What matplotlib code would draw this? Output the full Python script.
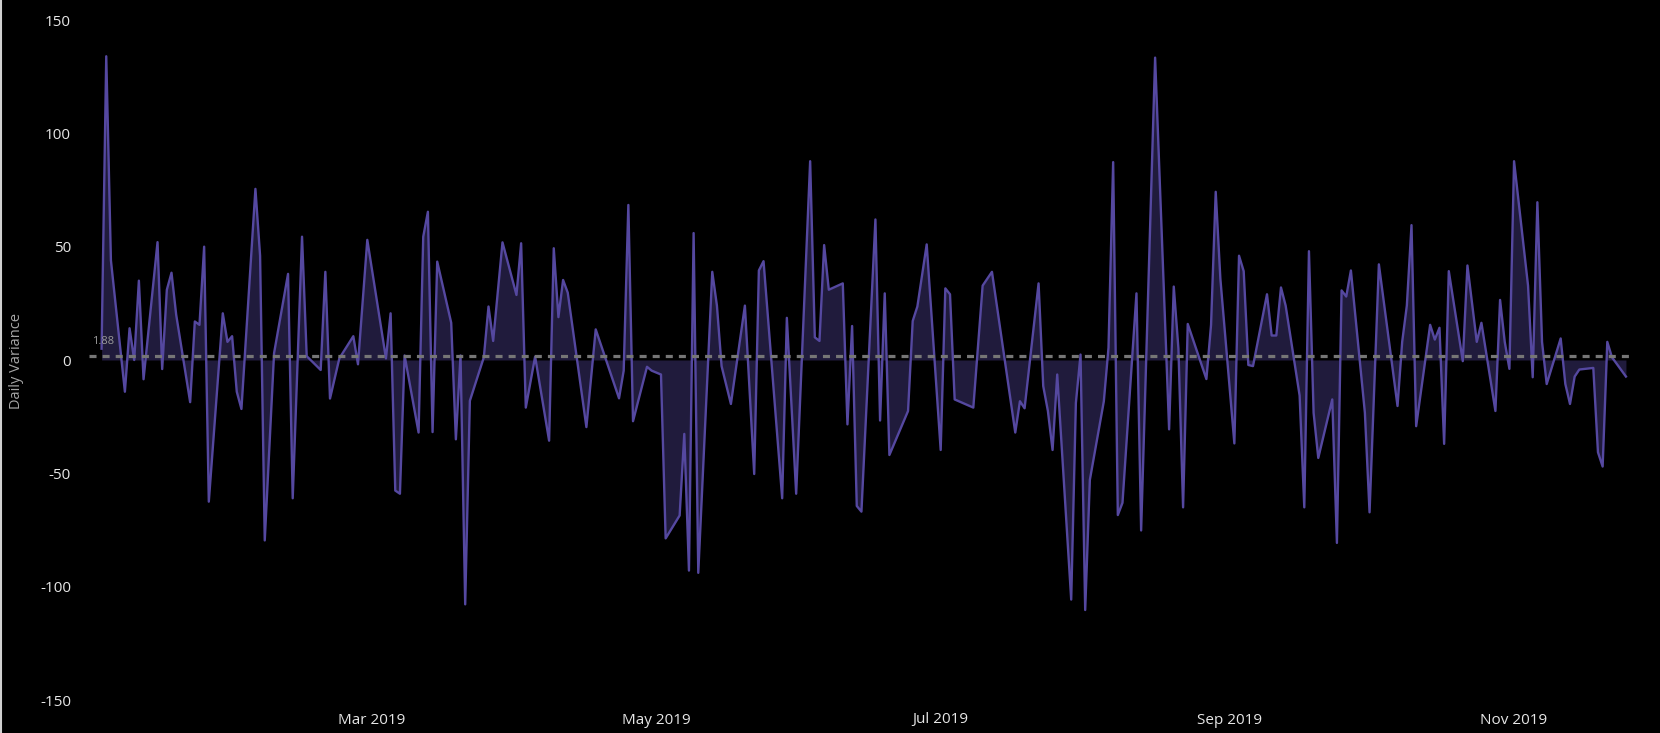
import pandas as pd
import matplotlib
matplotlib.use("Agg")
import matplotlib.pyplot as plt
import matplotlib.dates as mdates
from matplotlib.lines import Line2D

# daily variance values
dates = [
    "2019-01-02", "2019-01-03", "2019-01-04", "2019-01-07", "2019-01-08", "2019-01-09", "2019-01-10",
    "2019-01-11", "2019-01-14", "2019-01-15", "2019-01-16", "2019-01-17", "2019-01-18", "2019-01-21",
    "2019-01-22", "2019-01-23", "2019-01-24", "2019-01-25", "2019-01-28", "2019-01-29", "2019-01-30",
    "2019-01-31", "2019-02-01", "2019-02-04", "2019-02-05", "2019-02-06", "2019-02-08", "2019-02-11",
    "2019-02-12", "2019-02-14", "2019-02-15", "2019-02-18", "2019-02-19", "2019-02-20", "2019-02-22",
    "2019-02-25", "2019-02-26", "2019-02-28", "2019-03-04", "2019-03-05", "2019-03-06", "2019-03-07",
    "2019-03-08", "2019-03-11", "2019-03-12", "2019-03-13", "2019-03-14", "2019-03-15", "2019-03-18",
    "2019-03-19", "2019-03-20", "2019-03-21", "2019-03-22", "2019-03-25", "2019-03-26", "2019-03-27",
    "2019-03-29", "2019-04-01", "2019-04-02", "2019-04-03", "2019-04-05", "2019-04-08", "2019-04-09",
    "2019-04-10", "2019-04-11", "2019-04-12", "2019-04-16", "2019-04-18", "2019-04-23", "2019-04-24",
    "2019-04-25", "2019-04-26", "2019-04-29", "2019-04-30", "2019-05-02", "2019-05-03", "2019-05-06",
    "2019-05-07", "2019-05-08", "2019-05-09", "2019-05-10", "2019-05-13", "2019-05-14", "2019-05-15",
    "2019-05-17", "2019-05-20", "2019-05-22", "2019-05-23", "2019-05-24", "2019-05-28", "2019-05-29",
    "2019-05-31", "2019-06-03", "2019-06-04", "2019-06-05", "2019-06-06", "2019-06-07", "2019-06-10",
    "2019-06-11", "2019-06-12", "2019-06-13", "2019-06-14", "2019-06-17", "2019-06-18", "2019-06-19",
    "2019-06-20", "2019-06-24", "2019-06-25", "2019-06-26", "2019-06-28", "2019-07-01", "2019-07-02",
    "2019-07-03", "2019-07-04", "2019-07-08", "2019-07-10", "2019-07-12", "2019-07-17", "2019-07-18",
    "2019-07-19", "2019-07-22", "2019-07-23", "2019-07-24", "2019-07-25", "2019-07-26", "2019-07-29",
    "2019-07-30", "2019-07-31", "2019-08-01", "2019-08-02", "2019-08-05", "2019-08-06", "2019-08-07",
    "2019-08-08", "2019-08-09", "2019-08-12", "2019-08-13", "2019-08-16", "2019-08-19", "2019-08-20",
    "2019-08-21", "2019-08-22", "2019-08-23", "2019-08-27", "2019-08-28", "2019-08-29", "2019-08-30",
    "2019-09-02", "2019-09-03", "2019-09-04", "2019-09-05", "2019-09-06", "2019-09-09", "2019-09-10",
    "2019-09-11", "2019-09-12", "2019-09-13", "2019-09-16", "2019-09-17", "2019-09-18", "2019-09-19",
    "2019-09-20", "2019-09-23", "2019-09-24", "2019-09-25", "2019-09-26", "2019-09-27", "2019-09-30",
    "2019-10-01", "2019-10-03", "2019-10-07", "2019-10-08", "2019-10-09", "2019-10-10", "2019-10-11",
    "2019-10-14", "2019-10-15", "2019-10-16", "2019-10-17", "2019-10-18", "2019-10-21", "2019-10-22",
    "2019-10-24", "2019-10-25", "2019-10-28", "2019-10-29", "2019-10-30", "2019-10-31", "2019-11-01",
    "2019-11-04", "2019-11-05", "2019-11-06", "2019-11-07", "2019-11-08", "2019-11-11", "2019-11-12",
    "2019-11-13", "2019-11-14", "2019-11-15", "2019-11-18", "2019-11-19", "2019-11-20", "2019-11-21",
    "2019-11-22", "2019-11-25",
]
variance = [
    5, 134, 44, -14, 14, 0, 35,
    -8.5, 52, -4, 31, 38.5, 20, -18.6,
    17, 15.5, 50, -62.5, 20.6, 8, 10.5,
    -14, -21.6, 75.5, 46, -79.6, 3, 38,
    -61, 54.4, 1.7, -4.4, 38.9, -17, 0.7,
    10.5, -1.9, 53, 0.7, 20.6, -57.6, -59,
    2, -32, 54.4, 65.4, -31.8, 43.4, 16.4,
    -35, 2, -107.8, -18, 1.2, 23.6, 8.4,
    51.9, 28.7, 51.5, -21, 1.5, -35.6, 49.3,
    18.9, 35.3, 29.7, -29.6, 13.5, -16.9, -4.7,
    68.4, -27, -3, -4.7, -6.4, -78.7, -68.6,
    -32.6, -92.9, 56, -93.9, 38.9, 24, -2.7,
    -19.4, 24, -50.3, 39.5, 43.6, -61, 18.6,
    -59, 87.7, 10, 8.4, 50.7, 31, 33.8,
    -28.4, 15, -64.4, -66.9, 62, -26.7, 29.4,
    -41.9, -22.5, 17.2, 23.6, 51, -39.7, 31.6,
    29, -17.4, -21, 32.8, 38.9, -32, -18.2,
    -21.3, 33.8, -11.5, -22.5, -39.7, -6.4, -105.7,
    -19, 2.4, -110.3, -52.9, -18.2, 5.4, 87.3,
    -68.4, -63, 29.4, -75.2, 133.4, -30.6, 32.4,
    5, -65, 15.9, -8.4, 15.5, 74.2, 35.8,
    -36.8, 46, 39.2, -2.2, -2.7, 29, 10.8,
    10.8, 32, 24, -15.7, -65, 48, -23.3,
    -43.2, -17.4, -80.7, 30.7, 28, 39.5, -23.3,
    -67.2, 42.2, -20.3, 8, 24, 59.5, -29.2,
    15.5, 9, 14.2, -37, 39.2, -0.5, 41.7,
    8, 16.4, -22.5, 26.5, 8, -3.9, 87.7,
    32.8, -7.6, 69.6, 8, -10.6, 9.5, -10.6,
    -19.4, -7.3, -4.2, -3.5, -40.7, -47, 8,
    1.2, -7.3,
]
average = 1.88
tick_months = ["2019-03-01", "2019-05-01", "2019-07-01", "2019-09-01", "2019-11-01"]
y_ticks = [-150, -100, -50, 0, 50, 100, 150]

plt.rcParams['font.family'] = ['Open Sans', 'DejaVu Sans']
plt.rcParams['axes.unicode_minus'] = False

x = pd.to_datetime(dates)

fig = plt.figure(figsize=(16.6, 7.33), dpi=100, facecolor='black')
ax = fig.add_axes([89 / 1660, 1 - 700 / 733, (1632 - 89) / 1660, (700 - 20) / 733])
ax.set_facecolor('black')

# area + line
ax.fill_between(x, variance, 0, color='#201b3c', linewidth=0)
ax.plot(x, variance, color='#5548a0', linewidth=1.7)

# average line
ax.axhline(average, color='#767676', linewidth=2.3, linestyle=(0, (2.2, 1.9)))
ax.text(0.002, average + 6.5, f"{average:.2f}", transform=ax.get_yaxis_transform(),
        color='#9a9a9a', fontsize=8, va='center', ha='left')

ax.set_ylim(-150, 150)
ax.set_xlim(x[0] - pd.Timedelta(days=2.7), x[-1] + pd.Timedelta(days=1.3))
ax.set_yticks(y_ticks)
ax.set_xticks(pd.to_datetime(tick_months))
ax.xaxis.set_major_formatter(mdates.DateFormatter('%b %Y'))
ax.tick_params(colors='#e6e6e6', labelsize=11, length=0)
ax.tick_params(axis='y', pad=13)
ax.tick_params(axis='x', pad=9)
for s in ax.spines.values():
    s.set_visible(False)

fig.text(17 / 1660, 1 - 361 / 733, "Daily Variance", rotation=90, color='#a6a6a6',
         fontsize=10.5, va='center', ha='center')

# thin frame line at the left edge
fig.add_artist(Line2D([0.0006, 0.0006], [0, 1], color='#d0d0d0', linewidth=1.5))

fig.savefig("out.png", dpi=100, facecolor='black')
